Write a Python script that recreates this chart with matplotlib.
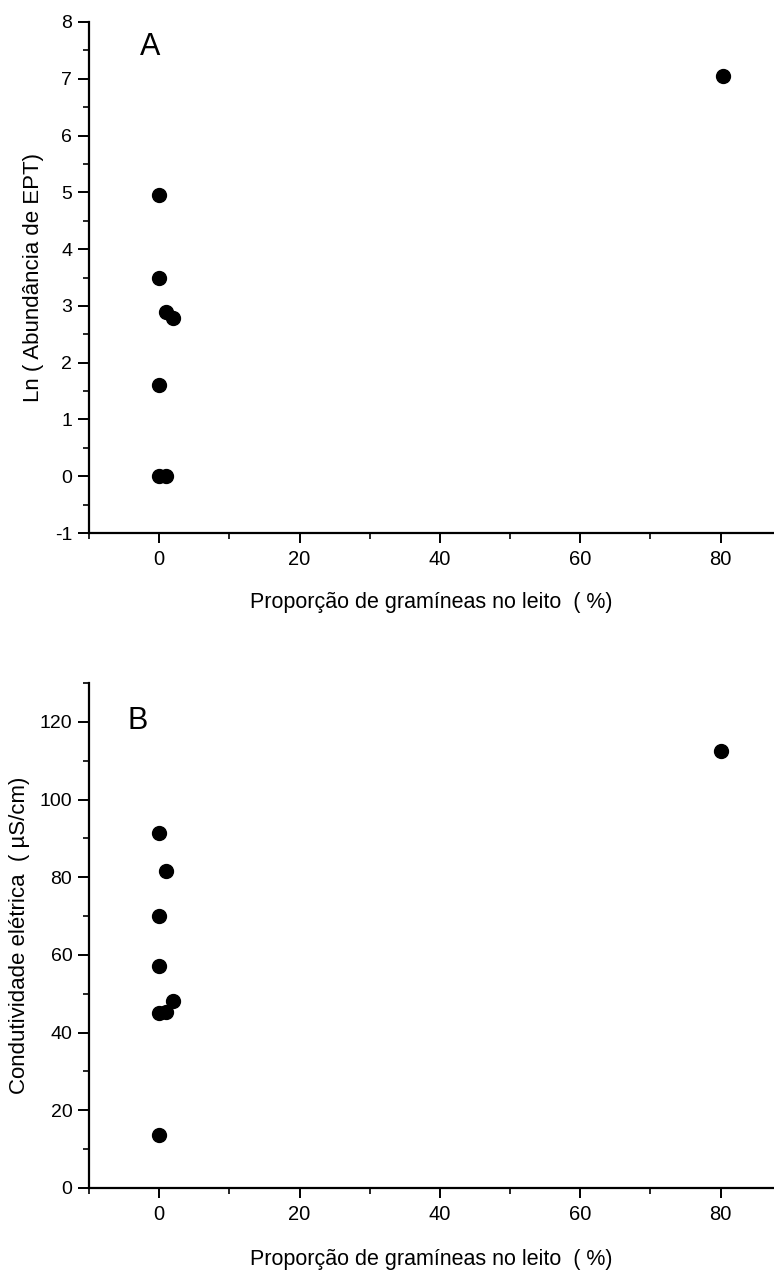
#!/usr/bin/env python3
"""Two stacked scatter panels: EPT abundance and conductivity vs grass cover."""

import matplotlib

matplotlib.use("Agg")
import matplotlib.pyplot as plt
from matplotlib.ticker import MultipleLocator

# grass proportion in the bed (%)
grass_a = [0, 0, 0, 0, 1, 1, 2, 80.3]
ept_ln = [4.95, 3.5, 1.61, 0.0, 2.89, 0.0, 2.78, 7.05]

grass_b = [0, 0, 0, 0, 0, 1, 1, 2, 80.0]
conductivity = [91.3, 70.0, 57.2, 45.0, 13.7, 81.5, 45.3, 48.2, 112.4]

X_LABEL = "Proporção de gramíneas no leito  ( %)"
Y_LABEL_A = "Ln ( Abundância de EPT)"
Y_LABEL_B = "Condutividade elétrica  ( µS/cm)"

plt.rcParams["font.family"] = ["Liberation Sans", "DejaVu Sans"]
plt.rcParams["axes.unicode_minus"] = False
W, H = 774, 1271


def style_axes(ax, xlabel_pad):
    for side in ("top", "right"):
        ax.spines[side].set_visible(False)
    for side in ("left", "bottom"):
        ax.spines[side].set_linewidth(1.6)
    ax.tick_params(axis="y", which="major", direction="out", length=8, width=1.4,
                   labelsize=14, pad=4)
    ax.tick_params(axis="y", which="minor", direction="out", length=4.5, width=1.2)
    ax.tick_params(axis="x", which="major", direction="out", length=7, width=1.4,
                   labelsize=14.5, pad=5)
    ax.tick_params(axis="x", which="minor", direction="out", length=4, width=1.2)
    ax.xaxis.set_major_locator(MultipleLocator(20))
    ax.xaxis.set_minor_locator(MultipleLocator(10))
    ax.set_xlabel(X_LABEL, fontsize=15.5, labelpad=xlabel_pad)


fig = plt.figure(figsize=(W / 100, H / 100), dpi=100)
fig.patch.set_facecolor("white")

ax_a = fig.add_axes([89 / W, 1 - 533 / H, 1 - 89 / W, (533 - 22) / H])
ax_a.scatter(grass_a, ept_ln, s=100, color="black", zorder=3, clip_on=False)
ax_a.set_xlim(-10, 87.6)
ax_a.set_ylim(-1, 8)
ax_a.yaxis.set_major_locator(MultipleLocator(1))
ax_a.yaxis.set_minor_locator(MultipleLocator(0.5))
style_axes(ax_a, 17)
ax_a.set_ylabel(Y_LABEL_A, fontsize=16, labelpad=8)
ax_a.text(0.089, 0.951, "A", transform=ax_a.transAxes, fontsize=22, ha="center", va="center")

ax_b = fig.add_axes([89 / W, 1 - 1188 / H, 1 - 89 / W, (1188 - 683) / H])
ax_b.scatter(grass_b, conductivity, s=100, color="black", zorder=3, clip_on=False)
ax_b.set_xlim(-10, 87.6)
ax_b.set_ylim(0, 130)
ax_b.yaxis.set_major_locator(MultipleLocator(20))
ax_b.yaxis.set_minor_locator(MultipleLocator(10))
style_axes(ax_b, 18)
ax_b.set_ylabel(Y_LABEL_B, fontsize=16, labelpad=7)
ax_b.text(0.071, 0.925, "B", transform=ax_b.transAxes, fontsize=22, ha="center", va="center")

fig.savefig("out.png", dpi=100, facecolor="white")
